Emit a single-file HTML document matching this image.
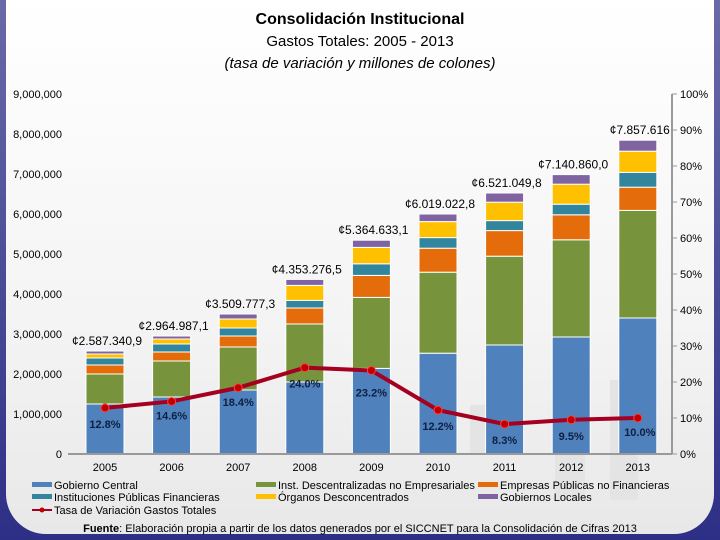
<!DOCTYPE html>
<html><head><meta charset="utf-8"><style>
body{margin:0;width:720px;height:540px;overflow:hidden;background:linear-gradient(#6a6aa8,#2d2f86);font-family:"Liberation Sans",sans-serif}
#card{position:absolute;left:6px;top:0;width:708px;height:534px;border-radius:0 0 40px 40px;background:linear-gradient(#ffffff,#f4f4f4 60%,#e8e8e8)}
</style></head><body>
<div id="card"></div>
<svg id="chart" width="720" height="540" style="position:absolute;left:0;top:0" font-family="Liberation Sans, sans-serif">
<g fill="#e4e4e4">
<rect x="470" y="405" width="30" height="48"/><rect x="555" y="390" width="30" height="110"/><rect x="610" y="380" width="28" height="120"/>
</g>
<text x="360" y="24" text-anchor="middle" font-size="16" font-weight="bold">Consolidación Institucional</text>
<text x="360" y="46" text-anchor="middle" font-size="15">Gastos Totales: 2005 - 2013</text>
<text x="360" y="68" text-anchor="middle" font-size="15" font-style="italic">(tasa de variación y millones de colones)</text>
<g id="axes"></g><g id="bars"></g><g id="line"></g>
<line x1="68" y1="454" x2="672" y2="454" stroke="#999" stroke-width="2"/>
<line x1="672" y1="94" x2="672" y2="454" stroke="#999" stroke-width="2"/>
<g font-size="11">
<rect x="32" y="482" width="20" height="5" fill="#4f81bd"/><text x="54" y="489">Gobierno Central</text>
<rect x="256" y="482" width="20" height="5" fill="#77933c"/><text x="278" y="489">Inst. Descentralizadas no Empresariales</text>
<rect x="478" y="482" width="20" height="5" fill="#e46c0a"/><text x="500" y="489">Empresas Públicas no Financieras</text>
<rect x="32" y="494" width="20" height="5" fill="#31859c"/><text x="54" y="501">Instituciones Públicas Financieras</text>
<rect x="256" y="494" width="20" height="5" fill="#ffc000"/><text x="278" y="501">Órganos Desconcentrados</text>
<rect x="478" y="494" width="20" height="5" fill="#8064a2"/><text x="500" y="501">Gobiernos Locales</text>
<line x1="32" y1="510" x2="52" y2="510" stroke="#a50021" stroke-width="2"/><circle cx="42" cy="510" r="2.5" fill="#c00000"/><text x="54" y="514">Tasa de Variación Gastos Totales</text>
</g>
<text x="360" y="532" text-anchor="middle" font-size="11"><tspan font-weight="bold">Fuente</tspan>: Elaboración propia a partir de los datos generados por el SICCNET para la Consolidación de Cifras 2013</text>
</svg>
<script>
const years=["2005","2006","2007","2008","2009","2010","2011","2012","2013"];
const gobCentral=[1.25,1.425,1.6,1.8,2.14,2.52,2.725,2.925,3.4];
const instDesc=[0.75,0.9,1.075,1.45,1.775,2.025,2.22,2.43,2.69];
const empPub=[0.225,0.225,0.275,0.4,0.55,0.6,0.64,0.625,0.58];
const instFin=[0.175,0.2,0.2,0.19,0.29,0.265,0.25,0.265,0.37];
const organos=[0.1,0.125,0.225,0.375,0.41,0.4,0.46,0.5,0.53];
const gobLocales=[0.075,0.075,0.125,0.15,0.18,0.19,0.23,0.24,0.275];
const totals=["¢2.587.340,9","¢2.964.987,1","¢3.509.777,3","¢4.353.276,5","¢5.364.633,1","¢6.019.022,8","¢6.521.049,8","¢7.140.860,0","¢7.857.616"];
const rates=[12.8,14.6,18.4,24.0,23.2,12.2,8.3,9.5,10.0];
const rateLabels=["12.8%","14.6%","18.4%","24.0%","23.2%","12.2%","8.3%","9.5%","10.0%"];
const leftTicks=[0,1,2,3,4,5,6,7,8,9];
const rightTicks=[0,10,20,30,40,50,60,70,80,90,100];
const NS="http://www.w3.org/2000/svg";
const yL=v=>454-v*40, yR=p=>454-p*3.6, xC=i=>105+i*66.6;
function mk(t,a,p){const e=document.createElementNS(NS,t);for(const k in a)e.setAttribute(k,a[k]);p.appendChild(e);return e;}
const ax=document.getElementById('axes');
leftTicks.forEach(v=>{const t=mk('text',{x:62,y:yL(v)+4,'text-anchor':'end','font-size':11},ax);t.textContent=v===0?"0":(v*1000000).toLocaleString('en-US');

});
rightTicks.forEach(p=>{mk('line',{x1:672,x2:677,y1:yR(p),y2:yR(p),stroke:'#999'},ax);const t=mk('text',{x:680,y:yR(p)+4,'font-size':11},ax);t.textContent=p+"%";

});
const series=[[gobCentral,'#4f81bd'],[instDesc,'#77933c'],[empPub,'#e46c0a'],[instFin,'#31859c'],[organos,'#ffc000'],[gobLocales,'#8064a2']];
const bg=document.getElementById('bars');
years.forEach((yr,i)=>{let c=0;series.forEach(([s,col])=>{const r=mk('rect',{x:xC(i)-19,y:yL(c+s[i]),width:38,height:s[i]*40,fill:col,stroke:'#fff','stroke-width':1},bg);

c+=s[i];});
const tl=mk('text',{x:xC(i)+2,y:yL(c)-6,'text-anchor':'middle','font-size':12},bg);tl.textContent=totals[i];


const yt=mk('text',{x:xC(i),y:471,'text-anchor':'middle','font-size':11},bg);yt.textContent=yr;

});
const lg=document.getElementById('line');
const pts=rates.map((r,i)=>xC(i)+','+yR(r)).join(' ');
const pl=mk('polyline',{points:pts,fill:'none',stroke:'#a50021','stroke-width':4},lg);


const off=[16,14,14,16,22,16,16,16,14];
rates.forEach((r,i)=>{const c=mk('circle',{cx:xC(i),cy:yR(r),r:4,fill:'#c00000',stroke:'#ff4040','stroke-width':1},lg);


const t=mk('text',{x:xC(i)+(i==8?2:0),y:yR(r)+off[i]+4,'text-anchor':'middle','font-size':11,'font-weight':'bold',fill:'#0f1f3f'},lg);t.textContent=rateLabels[i];

});
</script>
</body></html>
